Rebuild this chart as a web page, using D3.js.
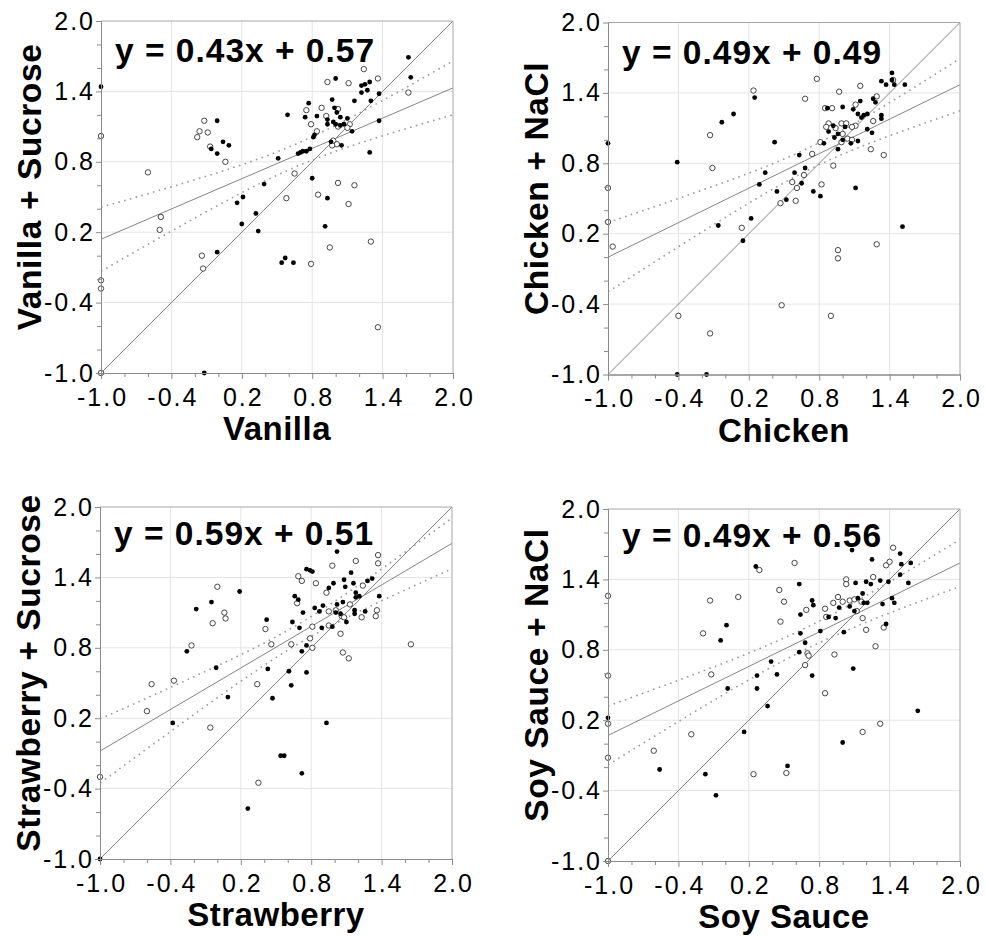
<!DOCTYPE html>
<html><head><meta charset="utf-8">
<script src="https://cdn.jsdelivr.net/npm/d3@7/dist/d3.min.js"></script>
<style>
body{margin:0;background:#fff;}
text{font-family:"Liberation Sans",Arial,Helvetica,sans-serif;fill:#000;}
</style>
</head><body>
<svg id="chart" width="985" height="936"></svg>
<script>
// ---------- data ----------
const xLabels = ["Vanilla", "Chicken", "Strawberry", "Soy Sauce"];
const yLabels = ["Vanilla + Sucrose", "Chicken + NaCl", "Strawberry + Sucrose", "Soy Sauce + NaCl"];
const slopes = [0.43, 0.49, 0.59, 0.49];
const intercepts = [0.57, 0.49, 0.51, 0.56];
const majorTicks = [-1.0, -0.4, 0.2, 0.8, 1.4, 2.0];
const minorTicks = [-0.8, -0.6, -0.2, 0.0, 0.4, 0.6, 1.0, 1.2, 1.6, 1.8];

const filled1 = [[-1.0,1.44],[-0.01,1.15],[0.04,0.97],[0.09,0.94],[-0.06,0.91],[-0.01,0.87],[0.39,0.61],[0.16,0.45],[0.21,0.50],[0.32,0.36],[0.20,0.27],[0.34,0.21],[-0.01,0.03],[-0.12,-1.0],[0.80,0.66],[0.93,0.49],[0.91,0.25],[0.57,-0.02],[0.54,-0.06],[0.64,-0.06],
[1.62,1.69],[1.64,1.52],[1.00,1.51],[1.37,1.38],[1.30,1.32],[1.22,1.45],[1.25,1.46],[1.29,1.48],[1.22,1.39],[1.27,1.41],[1.16,1.32],[0.97,1.33],[0.77,1.30],[0.99,1.26],[1.01,1.22],[0.74,1.18],[0.84,1.19],[0.93,1.16],[1.04,1.18],[1.10,1.17],[0.59,1.20],[0.93,1.12],[0.98,1.14],[1.00,1.12],[1.07,1.12],[1.04,1.11],[1.14,1.06],[1.37,1.15],[0.81,1.01],[0.82,1.03],[0.96,0.97],[1.05,0.94],[0.68,0.87],[0.70,0.88],[0.72,0.89],[0.75,0.89],[0.78,0.91],[0.51,0.83],[1.29,0.88]];
const open1 = [[-1.0,1.02],[-1.0,-0.21],[-1.0,-0.28],[-1.0,-1.0],[-0.60,0.71],[-0.49,0.33],[-0.50,0.22],[-0.12,1.15],[-0.16,1.06],[-0.18,1.01],[-0.09,1.05],[-0.07,0.93],[0.06,0.80],[-0.14,0.0],[-0.13,-0.11],[0.58,0.49],[0.65,0.70],[0.85,0.52],[1.02,0.62],[1.16,0.60],[1.11,0.44],[0.95,0.07],[0.79,-0.07],[1.30,0.12],[1.36,-0.61],
[1.24,1.59],[1.36,1.51],[1.62,1.39],[0.93,1.48],[1.11,1.47],[0.75,1.24],[0.88,1.26],[1.02,1.25],[0.92,1.19],[0.79,1.12],[0.84,1.06],[1.02,1.10],[1.12,1.12],[1.10,1.09],[0.98,0.98],[1.01,0.95],[0.97,0.94]];

const filled2 = [[-1.0,0.97],[-0.41,0.81],[-0.41,-1.0],[-0.16,-1.0],[-0.03,1.15],[0.07,1.22],[0.25,1.36],[-0.06,0.27],[0.15,0.14],[0.22,0.33],[0.29,0.62],[0.34,0.72],[0.42,0.98],[0.44,0.56],[0.52,0.49],[1.51,0.26],
[1.42,1.57],[1.33,1.50],[1.37,1.47],[1.42,1.51],[1.44,1.47],[1.53,1.47],[1.00,1.28],[1.15,1.33],[1.09,1.26],[1.26,1.35],[1.28,1.32],[0.87,1.27],[1.13,1.22],[1.16,1.19],[1.18,1.21],[1.21,1.22],[1.33,1.21],[1.33,1.18],[0.92,1.12],[1.02,1.11],[0.88,1.07],[0.96,1.05],[0.93,1.02],[1.00,1.00],[1.07,0.97],[1.13,0.99],[1.21,1.09],[1.25,1.06],[0.96,0.92],[0.84,0.97],[0.63,0.87],[0.68,0.76],[0.59,0.72],[0.65,0.63],[0.75,0.56],[0.81,0.52],[1.11,0.59]];
const open2 = [[-1.0,0.59],[-1.0,0.30],[-0.96,0.09],[-0.13,1.04],[-0.11,0.76],[0.24,1.42],[0.14,0.25],[0.47,0.46],[0.48,-0.41],[-0.40,-0.50],[-0.13,-0.65],[0.90,-0.50],[0.96,0.06],[0.96,-0.01],[1.29,0.11],[0.60,0.48],[0.57,0.64],
[0.78,1.52],[1.15,1.46],[1.43,1.51],[0.68,1.35],[0.97,1.41],[1.11,1.30],[1.29,1.37],[0.85,1.27],[0.91,1.27],[0.88,1.14],[0.86,1.11],[0.94,1.10],[0.99,1.14],[1.03,1.14],[1.11,1.12],[1.08,1.11],[1.26,1.16],[1.00,1.05],[1.04,1.01],[1.08,1.00],[0.99,0.98],[0.81,0.98],[0.74,0.88],[1.24,0.92],[1.35,0.87],[0.92,0.78],[0.67,0.70],[0.82,0.62],[0.61,0.59]];

const filled3 = [[-1.0,-1.0],[-0.38,0.16],[-0.26,0.77],[-0.18,1.13],[-0.05,1.19],[-0.01,0.63],[0.09,0.38],[0.19,1.28],[0.26,-0.57],[0.42,1.04],[0.43,0.62],[0.47,0.37],[0.54,-0.12],[0.57,-0.12],[0.72,-0.27],[0.93,0.16],
[1.02,1.62],[0.76,1.47],[0.79,1.46],[0.81,1.45],[1.14,1.44],[1.08,1.38],[1.16,1.35],[0.99,1.35],[0.95,1.31],[1.09,1.32],[1.28,1.37],[1.32,1.39],[1.21,1.24],[1.18,1.27],[1.18,1.23],[1.38,1.24],[0.66,1.24],[0.69,1.21],[0.73,1.10],[0.83,1.14],[0.87,1.11],[0.90,1.16],[1.02,1.17],[1.07,1.19],[1.01,1.10],[1.05,1.09],[1.17,1.12],[1.17,1.09],[1.26,1.11],[0.64,1.02],[0.70,0.97],[0.89,0.97],[0.98,0.98],[1.10,1.02],[0.76,0.82],[0.72,0.77],[0.61,0.60],[0.76,0.59],[0.63,0.48]];
const open3 = [[-1.0,-0.30],[-0.60,0.26],[-0.56,0.49],[-0.37,0.52],[-0.22,0.82],[-0.06,0.12],[-0.04,1.01],[0.0,1.32],[0.06,1.10],[0.07,1.05],[0.34,0.49],[0.35,-0.35],[0.41,0.96],[1.65,0.83],
[1.37,1.59],[1.37,1.52],[1.18,1.54],[0.98,1.50],[0.69,1.41],[0.72,1.37],[0.84,1.35],[0.93,1.27],[1.24,1.33],[0.68,1.18],[1.13,1.17],[1.01,1.12],[0.95,1.11],[1.06,1.07],[1.08,1.06],[1.23,1.06],[1.36,1.12],[1.35,1.07],[0.81,0.98],[0.95,0.99],[0.63,0.83],[0.46,0.83],[0.79,0.88],[0.81,0.80],[1.05,0.92],[1.07,0.76],[1.12,0.71]];

const filled4 = [[-1.0,0.22],[-0.56,-0.22],[-0.17,-0.26],[-0.08,-0.44],[-0.04,0.88],[0.01,1.01],[0.02,0.47],[0.16,0.10],[0.26,1.51],[0.27,0.58],[0.27,0.47],[0.36,0.32],[0.39,0.70],[0.44,0.59],[0.53,-0.19],[1.00,0.01],[1.64,0.28],
[1.08,1.65],[1.25,1.57],[1.49,1.62],[1.50,1.53],[1.58,1.54],[1.49,1.44],[1.56,1.37],[0.63,1.36],[1.11,1.37],[1.20,1.38],[1.24,1.36],[1.32,1.39],[1.39,1.38],[1.17,1.28],[1.13,1.24],[1.18,1.20],[1.21,1.20],[0.74,1.22],[0.75,1.18],[0.97,1.16],[1.06,1.17],[1.10,1.13],[1.34,1.19],[1.42,1.24],[1.44,1.20],[0.64,1.10],[0.88,1.08],[0.94,1.07],[0.64,0.94],[0.81,0.96],[1.01,0.95],[0.68,0.86],[0.63,0.78],[1.09,0.64],[1.37,1.02],[0.74,0.58]];
const open4 = [[-1.0,1.26],[-1.0,0.58],[-1.0,0.17],[-1.0,-0.12],[-1.0,-1.0],[-0.61,-0.06],[-0.29,0.08],[-0.19,0.94],[-0.13,1.22],[-0.12,0.59],[0.11,1.25],[0.24,-0.26],[0.29,1.48],[0.46,1.31],[0.50,1.21],[0.47,1.04],[0.52,-0.25],[0.85,0.43],[1.17,0.10],[1.32,0.17],
[1.43,1.67],[0.59,1.54],[1.37,1.52],[1.40,1.55],[1.26,1.42],[1.03,1.40],[1.03,1.36],[0.96,1.25],[0.92,1.20],[1.00,1.21],[1.06,1.22],[1.10,1.23],[1.16,1.21],[0.85,1.15],[0.69,1.14],[1.12,1.13],[0.86,1.08],[1.17,1.07],[1.20,0.97],[1.35,0.99],[1.28,0.83],[0.70,0.77],[0.71,0.75],[0.68,0.67],[0.93,0.76]];

const filledSets = [filled1, filled2, filled3, filled4];
const openSets = [open1, open2, open3, open4];

// ---------- layout ----------
const SIZE = 352;
const layout = [
  {left: 101, top: 21,  eqDy: 41, xtDy: 67},
  {left: 608, top: 22.5, eqDy: 41, xtDy: 67},
  {left: 100, top: 507, eqDy: 38, xtDy: 67},
  {left: 608, top: 509, eqDy: 38, xtDy: 67}
];

const svg = d3.select("#chart");
svg.append("rect").attr("width", 985).attr("height", 936).attr("fill", "#fff");

const x = d3.scaleLinear().domain([-1, 2]).range([0, SIZE]);
const y = d3.scaleLinear().domain([-1, 2]).range([SIZE, 0]);
const fmt = d => d.toFixed(1);

layout.forEach((L, i) => {
  const g = svg.append("g").attr("transform", `translate(${L.left},${L.top})`);
  const clipId = "clip" + i;
  g.append("clipPath").attr("id", clipId).append("rect").attr("width", SIZE).attr("height", SIZE);

  // grid
  const grid = g.append("g");
  grid.selectAll(".gx").data(majorTicks.slice(1, -1)).join("line")
    .attr("x1", d => x(d)).attr("x2", d => x(d)).attr("y1", 0).attr("y2", SIZE)
    .attr("stroke", "#e4e4e4").attr("stroke-width", 1);
  grid.selectAll(".gy").data(majorTicks.slice(1, -1)).join("line")
    .attr("y1", d => y(d)).attr("y2", d => y(d)).attr("x1", 0).attr("x2", SIZE)
    .attr("stroke", "#e4e4e4").attr("stroke-width", 1);

  // regression and confidence band derived from the points
  const pts = filledSets[i].concat(openSets[i]);
  const m = slopes[i], b = intercepts[i];
  const n = pts.length;
  const xbar = d3.mean(pts, p => p[0]);
  const sxx = d3.sum(pts, p => (p[0] - xbar) ** 2);
  const s = Math.sqrt(d3.sum(pts, p => (p[1] - (m * p[0] + b)) ** 2) / (n - 2));
  const tval = 1.984;
  const half = xv => tval * s * Math.sqrt(1 / n + (xv - xbar) ** 2 / sxx);
  const xs = d3.range(-1, 2.0001, 0.02);

  const lg = g.append("g").attr("clip-path", `url(#${clipId})`);
  const line = d3.line().x(d => x(d[0])).y(d => y(d[1]));
  // identity line
  lg.append("path").datum([[-1, -1], [2, 2]]).attr("d", line)
    .attr("fill", "none").attr("stroke", "#858585").attr("stroke-width", 1);
  // regression line
  lg.append("path").datum([[-1, m * -1 + b], [2, m * 2 + b]]).attr("d", line)
    .attr("fill", "none").attr("stroke", "#858585").attr("stroke-width", 1);
  // confidence bands
  [1, -1].forEach(sg => {
    lg.append("path").datum(xs.map(xv => [xv, m * xv + b + sg * half(xv)])).attr("d", line)
      .attr("fill", "none").attr("stroke", "#9a9a9a").attr("stroke-width", 1.6)
      .attr("stroke-dasharray", "1.6,4.4");
  });

  // points
  g.append("g").selectAll("circle").data(openSets[i]).join("circle")
    .attr("cx", d => x(d[0])).attr("cy", d => y(d[1])).attr("r", 2.7)
    .attr("fill", "#fff").attr("stroke", "#333").attr("stroke-width", 0.9);
  g.append("g").selectAll("circle").data(filledSets[i]).join("circle")
    .attr("cx", d => x(d[0])).attr("cy", d => y(d[1])).attr("r", 2.4)
    .attr("fill", "#000");

  // frame
  g.append("path").attr("d", `M0,0H${SIZE}V${SIZE}`).attr("fill", "none")
    .attr("stroke", "#a6a6a6").attr("stroke-width", 1);

  // axes
  const styleAxis = sel => {
    sel.select(".domain").attr("stroke", "#8a8a8a");
    sel.selectAll(".tick line").attr("stroke", "#8a8a8a");
    sel.selectAll("text").attr("font-size", 25).attr("letter-spacing", "2px")
      .attr("font-family", "'Liberation Sans', Arial, sans-serif").attr("fill", "#111");
  };
  g.append("g").attr("transform", `translate(0,${SIZE})`)
    .call(d3.axisBottom(x).tickValues(minorTicks).tickFormat("").tickSize(4).tickSizeOuter(0))
    .call(styleAxis);
  g.append("g").attr("transform", `translate(0,${SIZE})`)
    .call(d3.axisBottom(x).tickValues(majorTicks).tickFormat(fmt).tickSize(6).tickPadding(9).tickSizeOuter(0))
    .call(styleAxis)
    .call(a => a.selectAll("text").attr("dx", "1px"));
  g.append("g")
    .call(d3.axisLeft(y).tickValues(minorTicks).tickFormat("").tickSize(4).tickSizeOuter(0))
    .call(styleAxis);
  g.append("g")
    .call(d3.axisLeft(y).tickValues(majorTicks).tickFormat(fmt).tickSize(5).tickPadding(1).tickSizeOuter(0))
    .call(styleAxis);

  // equation
  g.append("text").attr("x", 14).attr("y", L.eqDy)
    .attr("font-size", 33.5).attr("font-weight", "bold").attr("letter-spacing", "1px")
    .text(`y = ${slopes[i].toFixed(2)}x + ${intercepts[i].toFixed(2)}`);

  // axis titles
  g.append("text").attr("x", SIZE / 2).attr("y", SIZE + L.xtDy)
    .attr("text-anchor", "middle").attr("font-size", 33).attr("font-weight", "bold")
    .attr("letter-spacing", "0.5px").text(xLabels[i]);
  g.append("text").attr("transform", `translate(-60,${SIZE / 2 - 10}) rotate(-90)`)
    .attr("text-anchor", "middle").attr("font-size", 33.5).attr("font-weight", "bold")
    .attr("letter-spacing", "0.6px").text(yLabels[i]);
});
</script>
</body></html>
